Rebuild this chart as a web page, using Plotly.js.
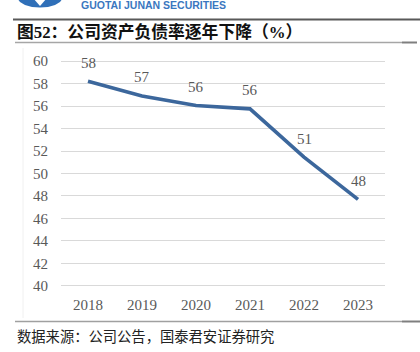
<!DOCTYPE html>
<html>
<head>
<meta charset="utf-8">
<script src="https://cdn.plot.ly/plotly-3.0.1.min.js"></script>
<style>html,body{margin:0;padding:0;background:#fff;}#chart{width:420px;height:352px;}</style>
</head>
<body>
<div id="chart"></div>
<script>
var years = ['2018', '2019', '2020', '2021', '2022', '2023'];
var debtRatio = [58.2, 56.9, 56.05, 55.75, 51.45, 47.7];
var yTicks = [40, 42, 44, 46, 48, 50, 52, 54, 56, 58, 60];
var titleText = '图52：公司资产负债率逐年下降（%）';
var sourceText = '数据来源：公司公告，国泰君安证券研究';
var brandText = 'GUOTAI JUNAN SECURITIES';

var W = 420, H = 352, ML = 61, MR = 35, MT = 60, MB = 65;
var PW = W - ML - MR, PH = H - MT - MB;
function px(x) { return (x - ML) / PW; }
function py(y) { return 1 - (y - MT) / PH; }

var grey = '#595959';
var serif = 'Liberation Serif, Times New Roman, serif';
var cjk = 'Liberation Serif, Noto Sans CJK SC, serif';

var trace = {
  x: years, y: debtRatio, type: 'scatter', mode: 'lines',
  line: {color: '#3C679C', width: 3.6},
  hoverinfo: 'skip', cliponaxis: false
};

var annotations = years.map(function (yr, i) {
  return {x: i, y: debtRatio[i], xref: 'x', yref: 'y', text: String(Math.round(debtRatio[i])),
    showarrow: false, yshift: 18.5, xanchor: 'center', yanchor: 'middle',
    font: {family: serif, size: 15, color: grey}};
});
annotations.push({x: px(15), y: py(32), xref: 'paper', yref: 'paper', xanchor: 'left', yanchor: 'middle',
  text: '<b>' + titleText + '</b>', showarrow: false, font: {family: cjk, size: 16.8, color: '#111'}});
annotations.push({x: px(15), y: py(337), xref: 'paper', yref: 'paper', xanchor: 'left', yanchor: 'middle',
  text: sourceText, showarrow: false, font: {family: cjk, size: 14.3, color: '#222'}});
annotations.push({x: px(79), y: py(5), xref: 'paper', yref: 'paper', xanchor: 'left', yanchor: 'middle',
  text: '<b>' + brandText + '</b>', showarrow: false, font: {family: 'Liberation Sans, Arial, sans-serif', size: 10.5, color: '#3A77C0'}});

function hline(x0, x1, y, color, width) {
  return {type: 'line', xref: 'paper', yref: 'paper', x0: px(x0), x1: px(x1), y0: py(y), y1: py(y),
    line: {color: color, width: width}, layer: 'above'};
}
function pathPx(pts) {
  return pts.map(function (p, i) { return (i ? 'L' : 'M') + px(p[0]) + ',' + py(p[1]); }).join(' ') + ' Z';
}
var shapes = [
  hline(13, 420, 19.5, '#595959', 2),
  hline(15, 402, 42.5, '#a6a6a6', 1.5),
  hline(402, 417, 42.5, '#7f7f7f', 2),
  hline(15, 402, 321.5, '#a0a0a0', 1.5),
  hline(402, 420, 321.5, '#7f7f7f', 2),
  {type: 'line', xref: 'paper', yref: 'paper', x0: px(23), x1: px(23), y0: py(48), y1: py(318), line: {color: '#f0f0f0', width: 1}},
  {type: 'path', xref: 'paper', yref: 'paper', fillcolor: '#2F6FB8', line: {width: 0},
    path: pathPx([[17, -2], [63, -2], [60, 2], [55, 5], [48, 7], [40, 7.5], [32, 7], [25, 5], [20, 2]])},
  {type: 'path', xref: 'paper', yref: 'paper', fillcolor: '#ffffff', line: {width: 0},
    path: pathPx([[33, -2], [47, -2], [40, 6]])}
];

var layout = {
  width: W, height: H,
  margin: {l: ML, r: MR, t: MT, b: MB, pad: 0},
  paper_bgcolor: '#fff', plot_bgcolor: '#fff',
  showlegend: false,
  xaxis: {type: 'category', range: [-0.5, 5.5], showgrid: false, zeroline: false, showline: false, ticks: '',
    ticklabelstandoff: 7, tickfont: {family: serif, size: 15, color: grey}, fixedrange: true},
  yaxis: {range: [39.9, 60.1], tickvals: yTicks, ticktext: yTicks.map(String), showgrid: true, gridcolor: '#d9d9d9', gridwidth: 1,
    zeroline: false, showline: false, ticks: '', ticklabelstandoff: 12,
    tickfont: {family: serif, size: 15, color: grey}, fixedrange: true},
  annotations: annotations,
  shapes: shapes
};

Plotly.newPlot('chart', [trace], layout, {staticPlot: true, displayModeBar: false});
</script>
</body>
</html>
